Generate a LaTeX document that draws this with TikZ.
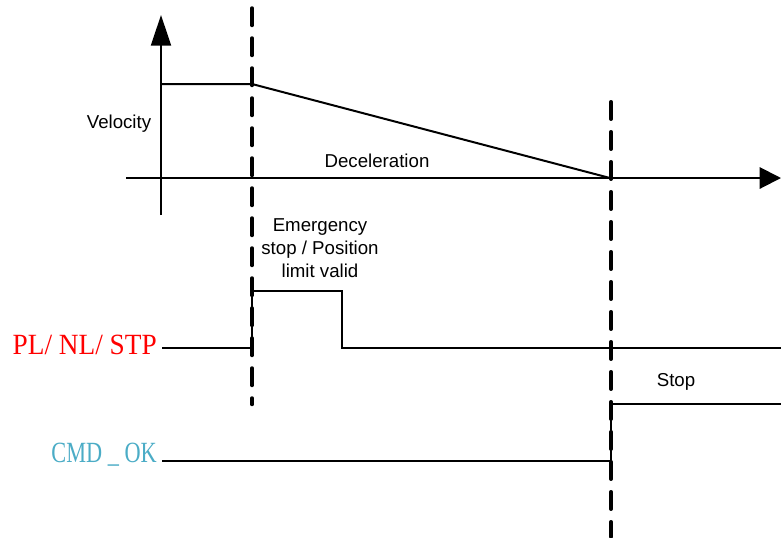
\documentclass[tikz,border=0pt]{standalone}
\usepackage{fontspec}
\setmainfont{Liberation Serif}
\setsansfont{Liberation Sans}
\definecolor{sigred}{RGB}{255,0,0}
\definecolor{sigcyan}{RGB}{75,172,198}
\usetikzlibrary{arrows.meta,positioning}

\begin{document}
\begin{tikzpicture}[x=0.75pt, y=-0.75pt,
    sigline/.style={line width=1.5pt, black},
    axisline/.style={line width=1.5pt, black},
    marker/.style={line width=2.6pt, dash pattern=on 13.1pt off 9.4pt, line cap=round},
    note/.style={font=\sffamily\fontsize{14}{17}\selectfont, align=center, inner sep=0pt},
    signame/.style={font=\rmfamily\fontsize{22}{24}\selectfont, anchor=base east, inner sep=0pt}
  ]
    \useasboundingbox (0,0) rectangle (781,537);
    % axes
    \coordinate (yb) at (161,215);
    \coordinate (yt) at (161,15);
    \coordinate (xl) at (126,178);
    \coordinate (xr) at (781,178);
    \draw[axisline, -{Triangle[length=23pt, width=15pt]}] (yb) -- (yt);
    \draw[axisline, -{Triangle[length=16pt, width=16pt]}] (xl) -- (xr);
    % velocity profile
    \coordinate (v0) at (161,84);
    \coordinate (v1) at (252,84);
    \coordinate (v2) at (610,178);
    \draw[sigline] (v0) -- (v1) -- (v2);
    % event markers
    \coordinate (m1t) at (252,8);
    \coordinate (m1b) at (252,404.5);
    \coordinate (m2t) at (611,101.75);
    \coordinate (m2b) at (611,537);
    \draw[marker] (m1t) -- (m1b);
    \draw[marker] (m2t) -- (m2b);
    % signals
    \coordinate (p0) at (162,348);
    \coordinate (p1) at (252,348);
    \coordinate (p2) at (252,291);
    \coordinate (p3) at (342,291);
    \coordinate (p4) at (342,348);
    \coordinate (p5) at (781,348);
    \draw[sigline] (p0) -- (p1) -- (p2) -- (p3) -- (p4) -- (p5);
    \coordinate (c0) at (162,461);
    \coordinate (c1) at (611,461);
    \coordinate (c2) at (611,404);
    \coordinate (c3) at (781,404);
    \draw[sigline] (c0) -- (c1) -- (c2) -- (c3);
    % labels
    \node[note] (vel) at (119,124) {Velocity};
    \node[note] (dec) at (377,161) {Deceleration};
    \node[note] (emg) at (320,248) {Emergency\\stop / Position\\limit valid};
    \node[note] (stp) at (676,382) {Stop};
    \node[signame, text=sigred] (plnl) at (157,354) {\scalebox{0.93}[1]{PL/ NL/ STP}};
    \node[signame, text=sigcyan] (cmdok) at (157,462) {\scalebox{0.76}[1]{CMD \_ OK}};
\end{tikzpicture}
\end{document}
